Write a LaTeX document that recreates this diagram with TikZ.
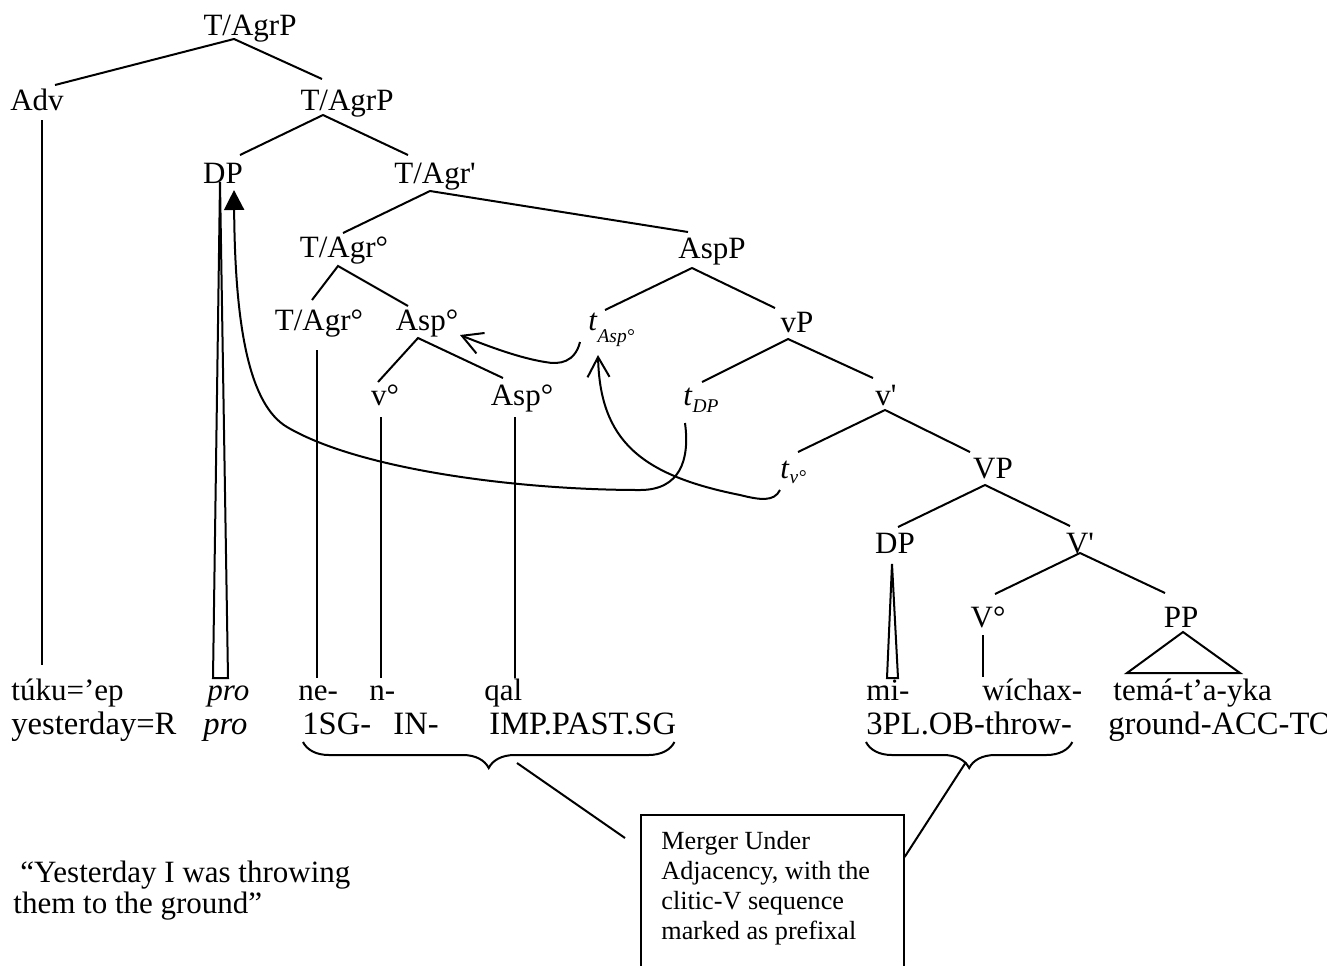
\documentclass[tikz,border=0pt]{standalone}
\usepackage{fontspec}
\setmainfont{Liberation Serif}
\usetikzlibrary{arrows.meta,decorations.pathreplacing}
\newcommand{\tsub}[2][4pt]{\textit{t}\raisebox{-#1}{\fontsize{9.7}{10}\selectfont\itshape #2}}
\tikzset{
  lab/.style={anchor=base,inner sep=0pt},
  wd/.style={anchor=base west,inner sep=0pt},
  gl/.style={anchor=base west,inner sep=0pt,font=\fontsize{16.3}{18}\selectfont},
  br/.style={line width=1pt},
  mov/.style={line width=1pt,-{Straight Barb[length=10pt,width=11pt]}},
  movf/.style={line width=1pt,-{Triangle[length=10pt,width=10pt]}},
  brc/.style={line width=1pt,decorate,decoration={brace,mirror,amplitude=13pt}},
  memo/.style={draw,line width=0.8pt,anchor=north west,inner sep=0pt,minimum width=131.5pt,minimum height=90pt},
  memotxt/.style={anchor=north west,align=left,inner sep=0pt,font=\fontsize{13.1}{15}\selectfont},
}
\begin{document}
\begin{tikzpicture}[x=0.5pt,y=-0.5pt,every node/.style={font=\fontsize{15.5}{17}\selectfont}]
  \useasboundingbox (0,0) rectangle (1327,965);
  % tree labels
  \node[lab] (tp) at (250,35) {T/AgrP};
  \node[lab] (adv) at (37,110) {Adv};
  \node[lab] (tp2) at (347,110) {T/AgrP};
  \node[lab] (dp) at (223,183) {DP};
  \node[lab] (tbar) at (435,183) {T/Agr\textquotesingle};
  \node[lab] (thd) at (344,257) {T/Agr°};
  \node[lab] (aspp) at (712,258) {AspP};
  \node[lab] (tlow) at (319,330) {T/Agr°};
  \node[lab] (asphd) at (427,330) {Asp°};
  \node[wd] (tasp) at (588,330) {\tsub[6pt]{Asp°}};
  \node[lab] (vp) at (797,332) {vP};
  \node[lab] (vhd) at (385,405) {v°};
  \node[lab] (asplow) at (522,405) {Asp°};
  \node[wd] (tdp) at (683,405) {\tsub[3.5pt]{DP}};
  \node[lab] (vbar) at (886,405) {v\textquotesingle};
  \node[wd] (tv) at (780,478) {\tsub[2.5pt]{v°}};
  \node[lab] (vpp) at (993,478) {VP};
  \node[lab] (dpl) at (895,553) {DP};
  \node[lab] (vbar2) at (1080,553) {V\textquotesingle};
  \node[lab] (vhd2) at (988,627) {V°};
  \node[lab] (pp) at (1181,627) {PP};
  % words and glosses
  \node[wd] (w1) at (11,700) {túku=’ep};
  \node[wd] (pro1) at (207,700) {\textit{pro}};
  \node[wd] (ne) at (298,700) {ne-};
  \node[wd] (nn) at (369,700) {n-};
  \node[wd] (qal) at (484,700) {qal};
  \node[wd] (mi) at (866,700) {mi-};
  \node[wd] (wich) at (982,700) {wíchax-};
  \node[wd] (tema) at (1113,700) {temá-t’a-yka};
  \node[gl] (g1) at (11,734) {yesterday=R};
  \node[gl] (pro2) at (203,734) {\textit{pro}};
  \node[gl] (sg) at (302,734) {1SG-};
  \node[gl] (gin) at (393,734) {IN-};
  \node[gl] (imp) at (489,734) {IMP.PAST.SG};
  \node[gl] (ob) at (866,734) {3PL.OB-throw-};
  \node[gl] (gr) at (1108,734) {ground-ACC-TO};
  \node[anchor=north west,align=left,inner sep=0pt,font=\fontsize{15.5}{15.5}\selectfont] (trans) at (13,861) {\hspace*{3.5pt}“Yesterday I was throwing\\them to the ground”};
  % branches
  \draw[br] ([shift={(18,-25)}]adv.base) -- ([shift={(-16,4)}]tp.base) -- ([shift={(-25,-31)}]tp2.base);
  \draw[br] ([shift={(17,-28)}]dp.base) -- ([shift={(-24,5)}]tp2.base) -- ([shift={(-27,-28)}]tbar.base);
  \draw[br] ([shift={(-1,-24)}]thd.base) -- ([shift={(-5,8)}]tbar.base) -- ([shift={(-24,-26)}]aspp.base);
  \draw[br] ([shift={(-7,-30)}]tlow.base) -- ([shift={(-6,9)}]thd.base) -- ([shift={(-19,-24)}]asphd.base);
  \draw[br] ([shift={(-7,-23)}]vhd.base) -- ([shift={(-9,8)}]asphd.base) -- ([shift={(-19,-27)}]asplow.base);
  \draw[br] ([shift={(17,-20)}]tasp.base west) -- ([shift={(-20,10)}]aspp.base) -- ([shift={(-22,-24)}]vp.base);
  \draw[br] ([shift={(19,-23)}]tdp.base west) -- ([shift={(-9,7)}]vp.base) -- ([shift={(-13,-27)}]vbar.base);
  \draw[br] ([shift={(18,-26)}]tv.base west) -- ([shift={(-1,5)}]vbar.base) -- ([shift={(-23,-26)}]vpp.base);
  \draw[br] ([shift={(3,-26)}]dpl.base) -- ([shift={(-8,7)}]vpp.base) -- ([shift={(-10,-27)}]vbar2.base);
  \draw[br] ([shift={(7,-33)}]vhd2.base) -- (vbar2.base) -- ([shift={(-16,-34)}]pp.base);
  % lines down to the words
  \draw[br] ([shift={(5,10)}]adv.base) -- ([shift={(31,-35)}]w1.base west);
  \draw[br] ([shift={(-3,-1)}]dp.base) -- ([shift={(6,-22)}]pro1.base west) -- ([shift={(21,-22)}]pro1.base west) -- cycle;
  \draw[br] ([shift={(-2,20)}]tlow.base) -- ([shift={(19,-22)}]ne.base west);
  \draw[br] ([shift={(-4,12)}]vhd.base) -- ([shift={(12,-22)}]nn.base west);
  \draw[br] ([shift={(-7,12)}]asplow.base) -- ([shift={(31,-22)}]qal.base west);
  \draw[br] ([shift={(-3,11)}]dpl.base) -- ([shift={(21,-22)}]mi.base west) -- ([shift={(32,-22)}]mi.base west) -- cycle;
  \draw[br] ([shift={(-5,8)}]vhd2.base) -- ([shift={(1,-23)}]wich.base west);
  \draw[br] ([shift={(2,5)}]pp.base) -- ([shift={(14,-27)}]tema.base west) -- ([shift={(127,-27)}]tema.base west) -- cycle;
  % movement
  \draw[movf] ([shift={(2,18)}]tdp.base west) .. controls (690,460) and (680,490) .. (640,490)
    .. controls (520,490) and (360,470) .. (287,427) .. controls (250,405) and (235,330) .. ([shift={(11,7)}]dp.base);
  \draw[mov] ([shift={(0,12)}]tv.base west) .. controls (774,502) and (760,500) .. (740,495)
    .. controls (640,475) and (600,440) .. ([shift={(10,25)}]tasp.base west);
  \draw[mov] ([shift={(-8,12)}]tasp.base west) .. controls (575,362) and (560,365) .. (545,362)
    .. controls (520,358) and (490,347) .. ([shift={(33,5)}]asphd.base);
  % braces and note
  \draw[brc] ([shift={(1,8)}]sg.base west) -- ([shift={(-2,8)}]imp.base east);
  \draw[brc] ([shift={(0,8)}]ob.base west) -- ([shift={(0,8)}]ob.base east);
  \coordinate (lb) at ([shift={(215,29)}]sg.base west);
  \coordinate (rb) at ([shift={(100,28)}]ob.base west);
  \node[memo] (memo) at (640,814) {};
  \node[memotxt] (memotx) at (661,831) {Merger Under\\Adjacency, with the\\clitic-V sequence\\marked as prefixal};
  \draw[br] (lb) -- ([shift={(-15,24)}]memo.north west);
  \draw[br] ([shift={(0,43)}]memo.north east) -- (rb);
\end{tikzpicture}
\end{document}
